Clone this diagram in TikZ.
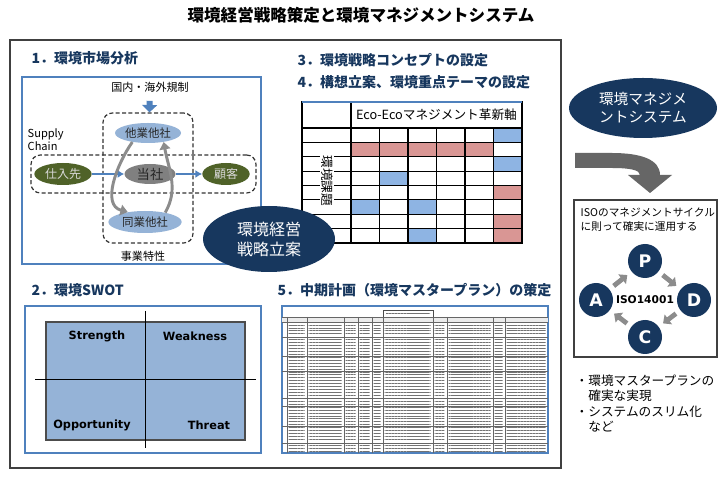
\documentclass[tikz,border=0pt]{standalone}
\usepackage{fontspec}
\setmainfont{Noto Sans CJK JP}
\newfontfamily\swotfont{DejaVu Sans}
\usepackage{tikz}
\usetikzlibrary{arrows.meta,positioning,calc,shapes.geometric,patterns.meta}
\definecolor{navy}{HTML}{17375E}
\definecolor{lineblue}{HTML}{4F81BD}
\definecolor{paleblue}{HTML}{95B3D7}
\definecolor{cellblue}{HTML}{8EB4E3}
\definecolor{cellpink}{HTML}{D99694}
\definecolor{olive}{HTML}{4F6228}
\definecolor{arrgray}{HTML}{8C8C8C}
\newcommand{\fsz}[1]{\fontsize{#1}{#1}\selectfont}

\begin{document}
\begin{tikzpicture}[
  x=0.75pt,y=-0.75pt,
  every node/.style={font=\fsz{8},align=center},
  heading/.style={anchor=west,font=\bfseries\fsz{10.5},text=navy},
  firm/.style={ellipse,inner sep=0pt,minimum height=15pt,text=black!85,font=\fsz{8.6}},
  dbox/.style={draw=black!80,dash pattern=on 3pt off 1.8pt,line width=0.9pt,rounded corners=7pt},
  bigoval/.style={ellipse,fill=navy,text=white,inner sep=0pt,font=\fontsize{12}{15}\selectfont},
  chainarr/.style={-{Latex[length=5pt,width=6pt]},lineblue,line width=1.2pt},
  cyclarr/.style={-{Triangle[length=5.5pt,width=8pt]},arrgray,line width=2.2pt},
  regarr/.style={-{Triangle[length=5.5pt,width=11pt]},lineblue,line width=4.5pt,shorten <=3pt},
  pdca/.style={circle,fill=navy,text=white,minimum size=25.5pt,inner sep=0pt,font=\swotfont\bfseries\fsz{13}},
  pdarr/.style={-{Triangle[length=5pt,width=9pt]},arrgray,line width=3.6pt,shorten <=4pt,shorten >=4pt},
  gridline/.style={draw=black,line width=0.9pt},
  swotlab/.style={font=\swotfont\bfseries\fsz{8.5}},
  txt/.style={pattern={Lines[angle=0,distance=2.2pt,line width=0.5pt]},pattern color=black!55}
]
\fill[white] (0,0) rectangle (720,498);
\useasboundingbox (0,0) rectangle (720,498);

\node[font=\bfseries\fsz{12.4}] (title) at (361,15) {環境経営戦略策定と環境マネジメントシステム};
\draw[black!75,line width=0.8pt] (10,40) rectangle (561,468);

\node[heading] (h1) at (27,58) {1．環境市場分析};
\draw[lineblue,line width=0.8pt] (22,77) rectangle (261,264);
\node[dbox,minimum width=67.5pt,minimum height=97.5pt] (indbox) at (148,178) {};
\node[dbox,minimum width=168.75pt,minimum height=28.5pt] (chainbox) at (143.5,174) {};
\node[font=\fsz{8.3}] (reg) at (150,87) {国内・海外規制};
\node[firm,fill=paleblue,minimum width=49.5pt] (other) at (148,133) {他業他社};
\node[firm,fill=paleblue,minimum width=55pt,minimum height=16.5pt] (same) at (145,222) {同業他社};
\node[firm,fill=black!50,minimum width=38.25pt,font=\fsz{10}] (self) at (150,174) {当社};
\node[firm,fill=olive,text=white!85!black,minimum width=43pt,minimum height=16.5pt,font=\fsz{9}] (supplier) at (63,174) {仕入先};
\node[firm,fill=olive,text=white!85!black,minimum width=35.5pt,minimum height=16.5pt,font=\fsz{9}] (customer) at (226,174) {顧客};
\node[anchor=west,align=left,font=\fontsize{8.3}{8.3}\selectfont] (sc) at (23,140) {Supply\\Chain};
\node[font=\fsz{8.3}] (biz) at (143,256) {事業特性};
\draw[regarr] (reg) -- (indbox);
\draw[chainarr] (supplier) -- (self);
\draw[chainarr] (self) -- (customer);
\draw[cyclarr] (other.210) to[out=235,in=165] (same.150);
\draw[cyclarr] (same.25) to[out=60,in=-80] (other.330);

\node[heading] (h3) at (293,60) {3．環境戦略コンセプトの設定};
\node[heading] (h4) at (293,82) {4．構想立案、環境重点テーマの設定};
\foreach \c/\r/\cc in {7/1/cellblue,2/2/cellpink,3/2/cellpink,4/2/cellpink,5/2/cellpink,6/2/cellpink,
  7/3/cellblue,3/4/cellblue,7/5/cellpink,2/6/cellblue,4/6/cellblue,7/7/cellpink,4/8/cellblue,7/8/cellpink}
  \fill[\cc] ({351+(\c-2)*28.5},{128+(\r-1)*14.375}) rectangle ++(28.5,14.375);
\foreach \r in {0,...,8}
  \draw[gridline] (302,{128+\r*14.375}) -- (522,{128+\r*14.375});
\foreach \c in {0,...,6}
  \draw[gridline] ({351+\c*28.5},128) -- ({351+\c*28.5},243);
\draw[gridline] (302,102) rectangle (522,243);
\draw[gridline] (351,102) -- (351,128);
\draw[lineblue,line width=1pt] (302,102) -- (522,102);
\node[font=\fsz{9.5}] (ecoaxis) at (436.5,115) {Eco-Ecoマネジメント革新軸};
\node[rotate=-90,fill=white,inner sep=0.6pt,font=\fsz{9.5}] (issues) at (327,181) {環境課題};

\node[bigoval,minimum width=99pt,minimum height=49.5pt] (strat) at (269,239) {環境経営\\戦略立案};

\node[heading] (h2) at (27,290) {2．環境SWOT};
\draw[lineblue,line width=0.8pt] (25,306) rectangle (261,453);
\draw[fill=paleblue,draw=black!70,line width=0.9pt] (46,322) rectangle (245,440);
\draw[black,line width=0.6pt] (145,311) -- (145,448);
\draw[black,line width=0.6pt] (35,379) -- (256,379);
\node[swotlab] (str) at (97,336) {Strength};
\node[swotlab] (weak) at (195,336) {Weakness};
\node[swotlab] (opp) at (92,425) {Opportunity};
\node[swotlab] (thr) at (209,425) {Threat};

\node[heading] (h5) at (273,290) {5．中期計画（環境マスタープラン）の策定};
\draw[lineblue,line width=1pt] (282,306) rectangle (548,453);
\draw[black!70,line width=0.4pt] (383,310) rectangle (433,317);
\fill[txt] (386,311.5) rectangle (430,316);
\fill[black!8] (282,317) rectangle (548,322);
\foreach \yy in {317,322,337,356,371,398,406,426,443}
  \draw[black!60,line width=0.45pt] (282,\yy) -- (548,\yy);
\foreach \xx in {287,307,344,358,372,383,433,447,493,505}
  \draw[black!60,line width=0.45pt] (\xx,317) -- (\xx,453);
\foreach \ya/\yb in {322/337,337/356,356/371,371/398,398/406,406/426,426/443,443/453}
  \foreach \xa/\xb in {287/307,307/344,344/358,358/372,372/383,383/433,433/447,447/493,493/505,505/548}
    \fill[txt] ({\xa+1.5},{\ya+1.5}) rectangle ({\xb-2.5},{\yb-1.5});

\node[bigoval,minimum width=111pt,minimum height=45pt,font=\fontsize{11}{13.5}\selectfont] (ems) at (643,108) {環境マネジメ\\ントシステム};
\fill[black!60] (575,153) -- (612,153) .. controls (642,153) and (660,160) .. (660,175)
  -- (672,175) -- (650,193) -- (628,175) -- (640,175)
  .. controls (640,170) and (630,168) .. (612,168) -- (575,168) -- cycle;
\draw[black!75,line width=0.9pt] (574,200) rectangle (717,357);
\node[anchor=north west,align=left,font=\fontsize{8}{10.5}\selectfont] (isonote) at (576,203) {ISOのマネジメントサイクル\\に則って確実に運用する};
\node[pdca] (P) at (645,261) {P};
\node[pdca] (A) at (596,300) {A};
\node[pdca] (D) at (694,300) {D};
\node[pdca] (C) at (645,337) {C};
\node[font=\swotfont\bfseries\fsz{8}] (iso) at (645,300) {ISO14001};
\draw[pdarr] (A) -- (P);
\draw[pdarr] (P) -- (D);
\draw[pdarr] (D) -- (C);
\draw[pdarr] (C) -- (A);
\node[anchor=north west,align=left,font=\fontsize{9.5}{11.6}\selectfont] (result) at (571,370) {・環境マスタープランの\\\hspace{1em}確実な実現\\・システムのスリム化\\\hspace{1em}など};
\end{tikzpicture}
\end{document}
